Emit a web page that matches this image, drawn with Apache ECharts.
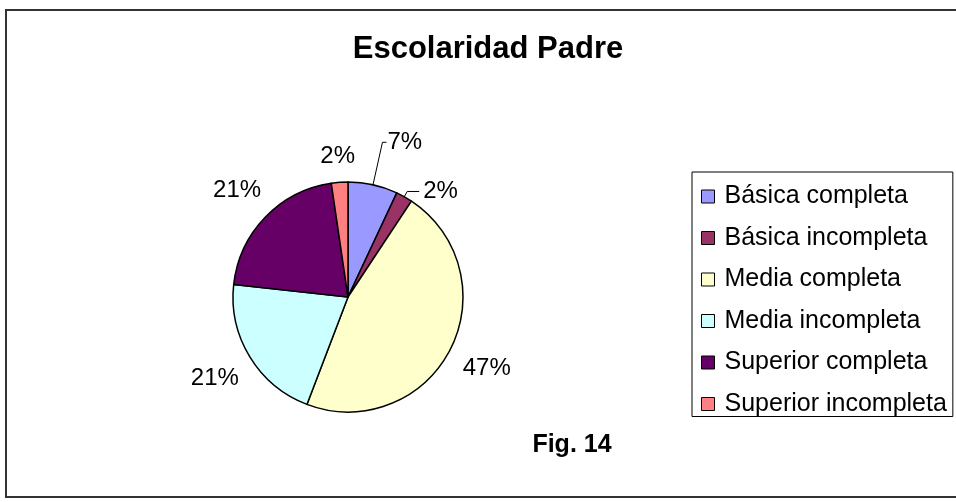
<!DOCTYPE html>
<html>
<head>
<meta charset="utf-8">
<title>Escolaridad Padre</title>
<script src="https://cdn.jsdelivr.net/npm/echarts@6/dist/echarts.min.js"></script>
<style>
  html, body { margin: 0; padding: 0; background: #fff; }
  #chart { width: 956px; height: 502px; }
</style>
</head>
<body>
<div id="chart"></div>
<script>
// datos (conteos por nivel)
const categories = ['Básica completa', 'Básica incompleta', 'Media completa', 'Media incompleta', 'Superior completa', 'Superior incompleta']
const counts = [3, 1, 20, 9, 9, 1]

const palette = ['#9999ff', '#993366', '#ffffcc', '#ccffff', '#660066', '#ff8080']
// largo de la linea de etiqueta por sector; solo los dos primeros muestran linea
const leaderShow = [true, true, false, false, false, false]
const leaderLen = [43.5, 6, 41, 41, 39, 26]
const leaderLen2 = [4, 12, 0, 0, 0, 0]
const labelGap = [1, 4, 0, 0, 0, 0]

const font = "'Liberation Sans', Arial, sans-serif"

const chart = echarts.init(document.getElementById('chart'))

const pieData = categories.map((name, i) => ({
  name: name,
  value: counts[i],
  itemStyle: { color: palette[i] },
  label: { distanceToLabelLine: labelGap[i] },
  labelLine: { show: leaderShow[i], length: leaderLen[i], length2: leaderLen2[i] },
}))

const option = {
  animation: false,
  backgroundColor: '#fff',
  title: {
    text: 'Escolaridad Padre',
    left: 488,
    textAlign: 'center',
    top: 34,
    padding: 0,
    textStyle: {
      fontFamily: font,
      fontSize: 31,
      fontWeight: 'bold',
      color: '#000',
    },
  },
  legend: {
    orient: 'vertical',
    left: 692,
    top: 172,
    padding: [12, 6, 0, 9],
    itemWidth: 13,
    itemHeight: 13,
    itemGap: 16.5,
    icon: 'rect',
    selectedMode: false,
    backgroundColor: '#fff',
    borderColor: '#000',
    borderWidth: 1,
    itemStyle: { borderColor: '#000', borderWidth: 1 },
    textStyle: {
      fontFamily: font,
      fontSize: 25,
      lineHeight: 25,
      color: '#000',
      padding: [0, 0, 0, 5],
    },
    data: categories,
  },
  graphic: [
    {
      type: 'rect',
      silent: true,
      shape: { x: 6, y: 10, width: 1000, height: 487 },
      style: { fill: 'none', stroke: '#333', lineWidth: 2 },
    },
    {
      type: 'text',
      silent: true,
      style: {
        text: 'Fig. 14',
        x: 572,
        y: 445,
        textAlign: 'center',
        textVerticalAlign: 'middle',
        font: 'bold 25px ' + font,
        fill: '#000',
      },
    },
  ],
  series: [
    {
      name: 'Escolaridad Padre',
      type: 'pie',
      center: [348, 297],
      radius: 115,
      startAngle: 90,
      clockwise: true,
      avoidLabelOverlap: false,
      itemStyle: { borderColor: '#000', borderWidth: 1.5 },
      emphasis: { disabled: true },
      label: {
        show: true,
        position: 'outside',
        fontFamily: font,
        fontSize: 24,
        color: '#000',
        formatter: (p) => Math.round(p.percent) + '%',
      },
      labelLine: {
        lineStyle: { color: '#000', width: 1 },
      },
      // etiquetas sin linea quedan centradas sobre el punto radial, como en Excel
      labelLayout: function (params) {
        if (leaderShow[params.dataIndex]) return {}
        const w = params.labelRect.width
        return { dx: params.align === 'right' ? w / 2 : -w / 2 }
      },
      data: pieData,
    },
  ],
}

chart.setOption(option)
</script>
</body>
</html>
